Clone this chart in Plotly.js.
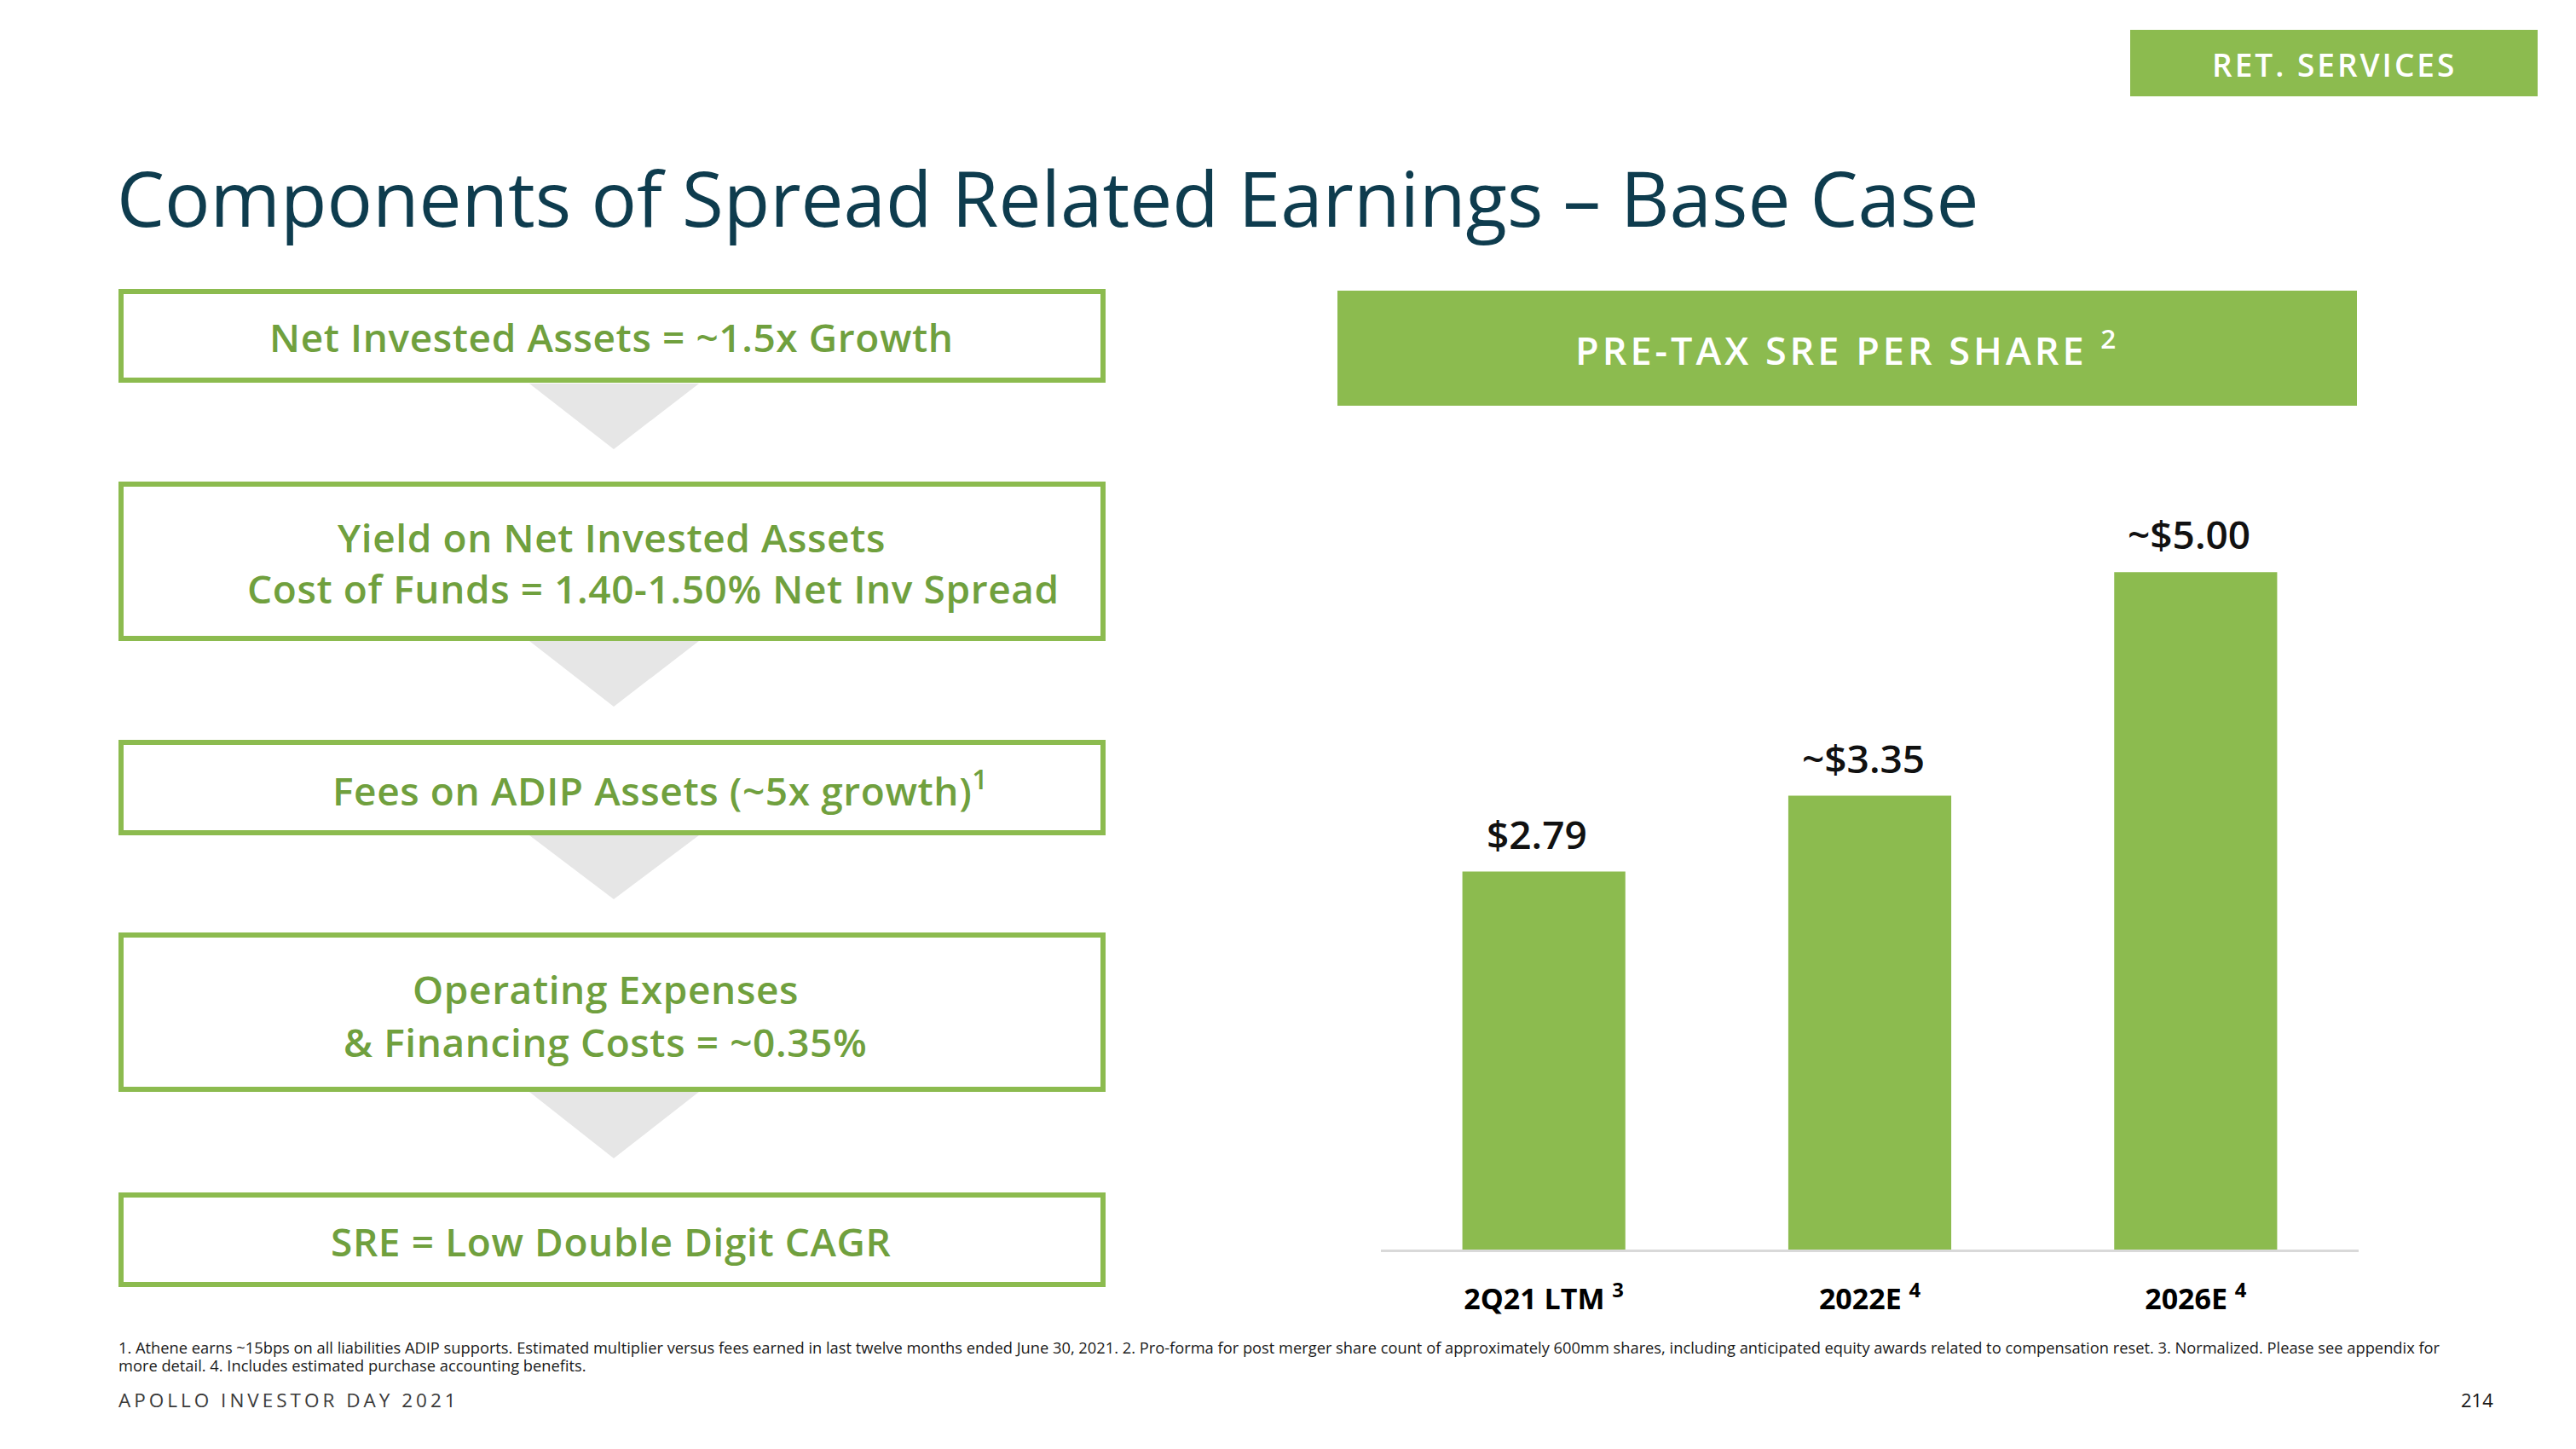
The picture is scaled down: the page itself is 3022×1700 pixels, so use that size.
<!DOCTYPE html>
<html><head><meta charset="utf-8">
<script src="https://cdn.plot.ly/plotly-3.0.1.min.js"></script>
<style>html,body{margin:0;padding:0;background:#fff;}#chart{width:3022px;height:1700px;}</style>
</head><body><div id="chart"></div>
<script>
// ---------- data ----------
const categories = ['2Q21 LTM', '2022E', '2026E'];
const categoryNotes = ['3', '4', '4'];
const sreValues = [2.79, 3.35, 5.00];
const valueLabels = ['$2.79', '~$3.35', '~$5.00'];
const chartHeader = 'PRE-TAX SRE PER SHARE';
const chartHeaderNote = '2';
const pageTitle = 'Components of Spread Related Earnings – Base Case';
const sectionTag = 'RET. SERVICES';
const componentLines = [
  ['Net Invested Assets = ~1.5x Growth'],
  ['Yield on Net Invested Assets', 'Cost of Funds = 1.40-1.50% Net Inv Spread'],
  ['Fees on ADIP Assets (~5x growth)<sup>1</sup>'],
  ['Operating Expenses', '&amp; Financing Costs = ~0.35%'],
  ['SRE = Low Double Digit CAGR']
];
const footnoteLines = [
  '1. Athene earns ~15bps on all liabilities ADIP supports. Estimated multiplier versus fees earned in last twelve months ended June 30, 2021. 2. Pro-forma for post merger share count of approximately 600mm shares, including anticipated equity awards related to compensation reset. 3. Normalized. Please see appendix for',
  'more detail. 4. Includes estimated purchase accounting benefits.'
];
const footerLeft = 'APOLLO INVESTOR DAY 2021';
const pageNumber = '214';

// ---------- layout geometry (pixels) ----------
const W = 3022, H = 1700;
const px = x => x / W, py = y => 1 - y / H;
const GREEN = '#8cbb4f', TEXTGREEN = '#70a03e', TITLE = '#0e3c4e';
const boxX = [139, 1297];
const boxY = [[339, 449], [565, 752], [868, 980], [1094, 1281], [1399, 1510]];
const linePos = [
  [[717, 395]],
  [[717, 630], [766, 690]],
  [[775, 925]],
  [[710, 1160], [710, 1222]],
  [[717, 1456]]
];
const arrowY = [[450, 527], [752, 829], [980, 1055], [1281, 1359]];

const shapes = [];
const annotations = [];

// section tag
shapes.push({type:'rect', xref:'paper', yref:'paper', x0:px(2499), x1:px(2977), y0:py(35), y1:py(113), fillcolor:GREEN, line:{width:0}});
annotations.push({xref:'paper', yref:'paper', x:px(2738), y:py(76), xanchor:'center', yanchor:'middle', showarrow:false,
  text:'<span style="letter-spacing:3px">' + sectionTag + '</span>', font:{family:'Open Sans', size:37, weight:600, color:'#ffffff'}});

// arrows
arrowY.forEach(([t, b]) => {
  shapes.push({type:'path', xref:'paper', yref:'paper', layer:'below',
    path:`M ${px(621)} ${py(t)} L ${px(820)} ${py(t)} L ${px(720)} ${py(b)} Z`, fillcolor:'#e6e6e6', line:{width:0}});
});
// boxes
boxY.forEach(([t, b]) => {
  shapes.push({type:'rect', xref:'paper', yref:'paper', x0:px(boxX[0] + 3), x1:px(boxX[1] - 3), y0:py(t + 3), y1:py(b - 3),
    fillcolor:'#ffffff', line:{color:GREEN, width:6}});
});
componentLines.forEach((lines, i) => {
  lines.forEach((txt, j) => {
    const [cx, cy] = linePos[i][j];
    annotations.push({xref:'paper', yref:'paper', x:px(cx), y:py(cy), xanchor:'center', yanchor:'middle', showarrow:false,
      text:'<span style="letter-spacing:0.6px">' + txt + '</span>', font:{family:'Open Sans', size:46, weight:600, color:TEXTGREEN}});
  });
});

// chart header
shapes.push({type:'rect', xref:'paper', yref:'paper', x0:px(1569), x1:px(2765), y0:py(341), y1:py(476), fillcolor:GREEN, line:{width:0}});
annotations.push({xref:'paper', yref:'paper', x:px(2167), y:py(408), xanchor:'center', yanchor:'middle', showarrow:false,
  text:'<span style="letter-spacing:4px">' + chartHeader + ' <sup>' + chartHeaderNote + '</sup></span>',
  font:{family:'Open Sans', size:45, weight:600, color:'#ffffff'}});

// value labels on bars (data coordinates)
categories.forEach((c, i) => {
  annotations.push({xref:'x', yref:'y', x:c, y:sreValues[i], xanchor:'center', yanchor:'bottom', yshift:12, xshift:-8,
    showarrow:false, text:valueLabels[i], font:{family:'Open Sans', size:46, weight:600, color:'#111111'}});
});

// footnotes
footnoteLines.forEach((t, i) => {
  annotations.push({xref:'paper', yref:'paper', x:px(137), y:py(1580 + i * 21), xanchor:'left', yanchor:'middle', align:'left',
    showarrow:false, text:t, font:{family:'Open Sans', size:18.3, color:'#1a1a1a'}});
});
annotations.push({xref:'paper', yref:'paper', x:px(137), y:py(1642), xanchor:'left', yanchor:'middle', align:'left', showarrow:false,
  text:'<span style="letter-spacing:4px">' + footerLeft + '</span>', font:{family:'Open Sans', size:22.5, color:'#3a3a3a'}});
annotations.push({xref:'paper', yref:'paper', x:px(2927), y:py(1642), xanchor:'right', yanchor:'middle', showarrow:false,
  text:pageNumber, font:{family:'Open Sans', size:22, color:'#1a1a1a'}});

const tickText = categories.map((c, i) => '<b>' + c + '</b> <sup>' + categoryNotes[i] + '</sup>');

const trace = {
  type:'bar', x:categories, y:sreValues, marker:{color:GREEN, line:{width:0}},
  hoverinfo:'skip', cliponaxis:false
};

const layout = {
  width:W, height:H, margin:{l:0, r:0, t:0, b:0}, paper_bgcolor:'#ffffff', plot_bgcolor:'rgba(0,0,0,0)',
  showlegend:false, bargap:0.5,
  font:{family:'Open Sans', color:'#111111'},
  title:{text:pageTitle, xref:'paper', yref:'paper', x:px(137), xanchor:'left', y:py(235), yanchor:'middle',
    font:{family:'Open Sans', size:89, weight:400, color:TITLE}},
  xaxis:{domain:[px(1620), px(2767)], type:'category', range:[-0.5, 2.5], fixedrange:true,
    showline:true, linecolor:'#d9d9d9', linewidth:3, showgrid:false, zeroline:false, ticks:'',
    tickvals:categories, ticktext:tickText, ticklabelstandoff:26,
    tickfont:{family:'Open Sans', size:34, weight:700, color:'#000000'}},
  yaxis:{domain:[py(1466), py(576)], range:[0, 5.6], visible:false, fixedrange:true},
  shapes:shapes, annotations:annotations
};

Plotly.newPlot('chart', [trace], layout, {displayModeBar:false, staticPlot:true});
</script>
</body></html>
